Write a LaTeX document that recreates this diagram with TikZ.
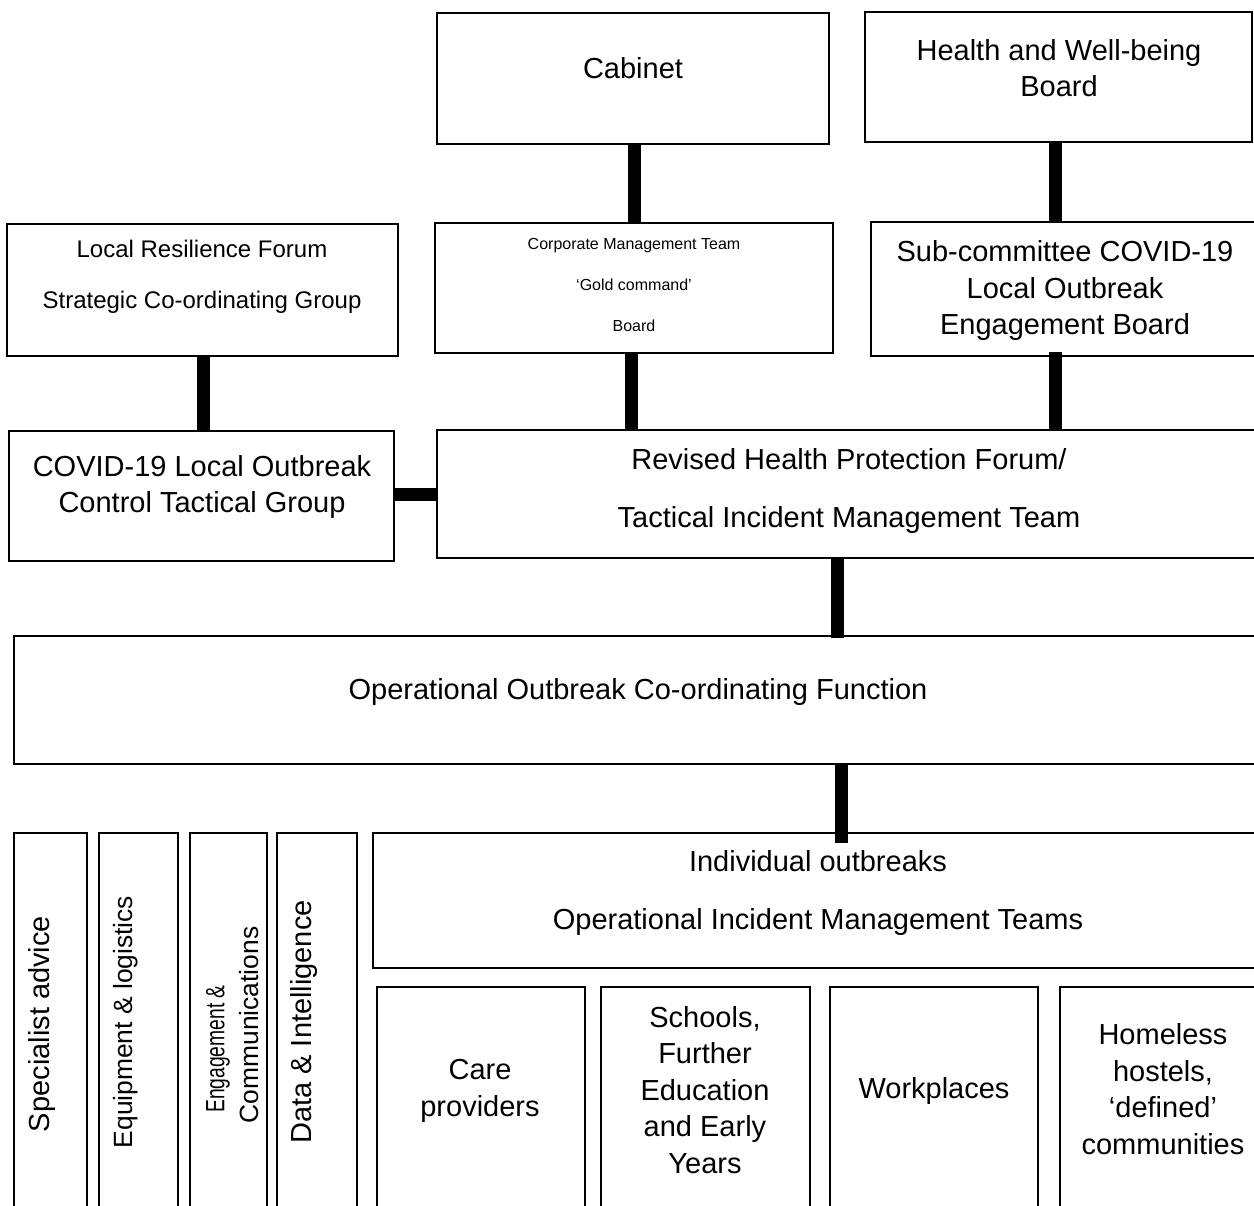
\documentclass[tikz,border=0pt]{standalone}
\usepackage{fontspec}
\setmainfont{Liberation Sans}
\usepackage{graphicx}
\newcommand\mkbox[5]{\node[box, minimum width={#4-#2}, minimum height={#5-#3}] (#1) at ({(#2+#4)/2},{(#3+#5)/2}) {};}
\begin{document}
\begin{tikzpicture}[x=1pt,y=-1pt,
  box/.style={draw=black, line width=2pt, inner sep=0pt, outer sep=0pt, fill=white},
  conn/.style={line width=13pt, draw=black},
  tx/.style={inner sep=0pt, align=center, font=\fontsize{29}{36.5}\selectfont},
  txm/.style={inner sep=0pt, align=center, font=\fontsize{24}{51}\selectfont},
  txs/.style={inner sep=0pt, align=center, font=\fontsize{16}{41}\selectfont},
  txd/.style={inner sep=0pt, align=center, font=\fontsize{29}{57.5}\selectfont},
  txv/.style={inner sep=0pt, font=\fontsize{26.4}{31}\selectfont, rotate=90},
]
\useasboundingbox (0,0) rectangle (1254,1206);
\clip (0,0) rectangle (1254,1206);
\fill[white] (0,0) rectangle (1254,1206);

% boxes
\mkbox{cab}{437}{13}{829}{144}
\mkbox{hwb}{865}{12}{1252}{142}
\mkbox{lrf}{7}{224}{398}{356}
\mkbox{cmt}{435}{223}{833}{353}
\mkbox{subc}{871}{222}{1258}{356}
\mkbox{covid}{9}{431}{394}{561}
\mkbox{rev}{437}{430}{1258}{558}
\mkbox{oocf}{14}{636}{1258}{764}
\mkbox{ind}{373}{833}{1258}{968}
\mkbox{va}{14}{833}{87}{1220}
\mkbox{vb}{99}{833}{178}{1220}
\mkbox{vc}{190}{833}{267}{1220}
\mkbox{vd}{277}{833}{357}{1220}
\mkbox{ba}{377}{987}{585}{1220}
\mkbox{bb}{601}{987}{810}{1220}
\mkbox{bc}{830}{987}{1038}{1220}
\mkbox{bd}{1060}{987}{1258}{1220}

% connectors
\draw[conn] (cab.south -| 634,0) -- (cmt.north -| 634,0);
\draw[conn] (hwb.south -| 1055,0) -- (subc.north -| 1055,0);
\draw[conn] (lrf.south -| 203,0) -- (covid.north -| 203,0);
\draw[conn] (cmt.south -| 631,0) -- (rev.north -| 631,0);
\draw[conn] ([yshift=4pt]subc.south -| 1055,0) -- (rev.north -| 1055,0);
\draw[conn] (covid.east |- 0,494) -- (rev.west |- 0,494);
\draw[conn] (rev.south -| 837,0) -- ([yshift=-2pt]oocf.north -| 837,0);
\draw[conn] (oocf.south -| 841,0) -- ([yshift=-10pt]ind.north -| 841,0);

% texts
\node[tx] (tcab) at (633,68) {Cabinet};
\node[tx] (thwb) at (1059,68) {Health and Well-being\\Board};
\node[txm] (tlrf) at (202,277) {Local Resilience Forum\\Strategic Co-ordinating Group};
\node[txs] (tcmt) at (634,285) {Corporate Management Team\\‘Gold command’\\Board};
\node[tx] (tsubc) at (1065,291) {Sub-committee COVID-19\\Local Outbreak\\Engagement Board};
\node[tx] (tcovid) at (202,487) {COVID-19 Local Outbreak\\Control Tactical Group};
\node[txd] (trev) at (849,491) {Revised Health Protection Forum/\\Tactical Incident Management Team};
\node[tx] (toocf) at (638,692) {Operational Outbreak Co-ordinating Function};
\node[txd] (tind) at (818,893) {Individual outbreaks\\Operational Incident Management Teams};
\node[tx] (tba) at (480,1091) {Care\\providers};
\node[tx] (tbb) at (705,1090) {Schools,\\Further\\Education\\and Early\\Years};
\node[tx] (tbc) at (934,1091) {Workplaces};
\node[tx] (tbd) at (1163,1089) {Homeless\\hostels,\\‘defined’\\communities};

\node[tx, rotate=90] (tva) at (42,1024) {Specialist advice};
\node[txv] (tvb) at (126,1022) {Equipment \& logistics};
\node[txv] (tvc1) at (218,1049) {\scalebox{0.73}[1]{Engagement \&}};
\node[txv] (tvc2) at (249,1025) {Communications};
\node[tx, rotate=90] (tvd) at (304,1022) {Data \& Intelligence};
\end{tikzpicture}
\end{document}
